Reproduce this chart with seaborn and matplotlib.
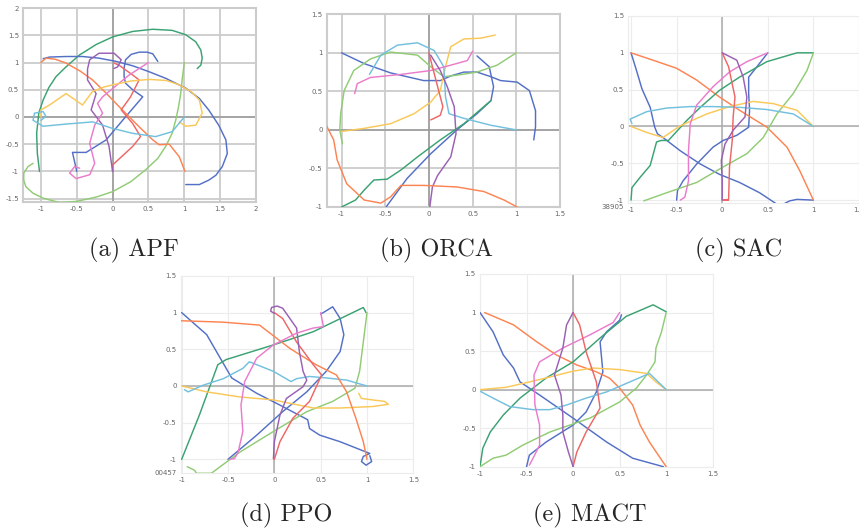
import numpy as np
import pandas as pd
import matplotlib
matplotlib.use("Agg")
import matplotlib.pyplot as plt
import seaborn as sns

# echarts-like palette, one colour per agent (10th agent repeats blue)
COLORS = {
    "blue": "#5470c6", "green": "#91cc75", "yellow": "#fac858", "red": "#ee6666",
    "cyan": "#73c0de", "dgreen": "#3ba272", "orange": "#fc8452", "purple": "#9a60b4",
    "pink": "#ea7ccc", "blue2": "#5470c6",
}

# trajectories, (x, y) waypoints per agent
APF = {
    "dgreen": [(-1.02, -1.0), (-1.05, -0.67), (-1.06, -0.3), (-1.03, 0.07), (-0.97, 0.31), (-0.89, 0.54),
               (-0.79, 0.74), (-0.65, 0.92), (-0.46, 1.14), (-0.23, 1.33), (0, 1.47), (0.28, 1.57),
               (0.56, 1.61), (0.83, 1.59), (1.02, 1.51), (1.16, 1.38), (1.23, 1.23), (1.25, 1.08),
               (1.23, 0.95), (1.18, 0.89)],
    "green": [(1.0, 1.0), (0.97, 0.68), (0.95, 0.43), (0.92, 0.19), (0.88, -0.06), (0.83, -0.3),
              (0.74, -0.54), (0.63, -0.76), (0.46, -0.97), (0.25, -1.19), (0, -1.37), (-0.23, -1.47),
              (-0.51, -1.55), (-0.74, -1.57), (-0.97, -1.49), (-1.11, -1.4), (-1.21, -1.28),
              (-1.24, -1.16), (-1.24, -1.03), (-1.18, -0.91), (-1.11, -0.85)],
    "blue": [(-0.97, 1.07), (-0.88, 1.1), (-0.65, 1.11), (-0.42, 1.11), (-0.19, 1.08), (0.05, 1.02),
             (0.28, 0.94), (0.51, 0.83), (0.74, 0.71), (1.02, 0.53), (1.21, 0.34), (1.34, 0.13),
             (1.48, -0.15), (1.58, -0.42), (1.6, -0.67), (1.53, -0.91), (1.44, -1.07), (1.34, -1.16),
             (1.21, -1.24), (1.02, -1.24)],
    "blue2": [(-0.5, -1), (-0.56, -0.65), (-0.37, -0.65), (-0.09, -0.42), (0.14, -0.06), (0.42, 0.37),
              (0.28, 0.5), (0.18, 0.62), (0.16, 0.74), (0.16, 0.9), (0.18, 1.05), (0.26, 1.15),
              (0.37, 1.19), (0.48, 1.19), (0.56, 1.16), (0.63, 1.02)],
    "orange": [(-1, 1), (-0.93, 1.08), (-0.8, 1.06), (-0.65, 0.99), (-0.45, 0.84), (-0.28, 0.68),
               (-0.1, 0.45), (0.09, 0.19), (0.37, -0.18), (0.56, -0.42), (0.65, -0.51), (0.79, -0.5),
               (0.93, -0.73), (1.01, -1.0)],
    "red": [(0, -1), (0, -0.88), (0.28, -0.54), (0.39, -0.36), (0.28, -0.12), (0.12, 0.13),
            (0.25, 0.37), (0.37, 0.68), (0.28, 0.77), (0.09, 0.95), (0.02, 0.99)],
    "purple": [(0, -1), (-0.05, -0.54), (-0.14, -0.15), (-0.3, 0.13), (-0.23, 0.43), (-0.35, 0.68),
               (-0.35, 0.88), (-0.32, 1.05), (-0.19, 1.17), (0.02, 1.17), (0.12, 1.05), (0.07, 0.92),
               (0.02, 0.89)],
    "pink": [(0.5, 1), (0.23, 0.77), (-0.14, 0.37), (-0.21, 0.25), (-0.14, 0.07), (-0.25, -0.15),
             (-0.32, -0.48), (-0.25, -0.85), (-0.32, -1.06), (-0.51, -1.13), (-0.6, -1.03),
             (-0.53, -0.91), (-0.46, -0.94)],
    "yellow": [(-1, 0), (-1, 0.13), (-0.88, 0.22), (-0.65, 0.43), (-0.42, 0.22), (-0.28, 0.47),
               (-0.12, 0.55), (0, 0.59), (0.25, 0.66), (0.51, 0.69), (0.75, 0.67), (0.93, 0.59),
               (1.1, 0.46), (1.21, 0.31), (1.25, 0.07), (1.16, -0.15), (1.02, -0.17), (0.93, -0.09)],
    "cyan": [(1, 0), (0.83, -0.27), (0.6, -0.36), (0.28, -0.3), (0, -0.21), (-0.28, -0.09),
             (-0.65, -0.13), (-0.97, -0.17), (-1.11, -0.06), (-1.09, 0.07), (-0.97, 0.1),
             (-0.93, 0.01), (-1.0, -0.06)],
}

ORCA = {
    "blue": [(-1, 1), (-0.74, 0.86), (-0.44, 0.74), (-0.25, 0.69), (-0.06, 0.64), (0.13, 0.64),
             (0.25, 0.7), (0.4, 0.75), (0.55, 0.75), (0.71, 0.69), (0.82, 0.64), (1.01, 0.62),
             (1.15, 0.51), (1.22, 0.25), (1.22, 0.04), (1.2, -0.13)],
    "blue2": [(0.55, 0.96), (0.69, 0.82), (0.74, 0.56), (0.71, 0.38), (0.55, 0.21), (0.32, 0.0),
              (0.02, -0.31), (-0.25, -0.63), (-0.49, -1.0)],
    "dgreen": [(-1, -1), (-0.84, -0.91), (-0.74, -0.78), (-0.63, -0.65), (-0.48, -0.64), (-0.32, -0.52),
               (-0.13, -0.35), (0.13, -0.13), (0.4, 0.08), (0.71, 0.38)],
    "green": [(1, 1), (0.78, 0.84), (0.55, 0.75), (0.32, 0.71), (0.17, 0.69), (0.02, 0.82),
              (-0.13, 0.97), (-0.44, 1.01), (-0.67, 0.92), (-0.86, 0.77), (-0.97, 0.51),
              (-1.01, 0.21), (-1.02, 0.0), (-0.99, -0.18)],
    "yellow": [(-1, -0.02), (-0.74, 0.02), (-0.44, 0.08), (-0.17, 0.21), (0.02, 0.36), (0.13, 0.51),
               (0.19, 0.82), (0.25, 1.08), (0.4, 1.18), (0.59, 1.19), (0.76, 1.23)],
    "cyan": [(1, 0), (0.71, 0.06), (0.4, 0.15), (0.23, 0.21), (0.19, 0.43), (0.17, 0.82),
             (0.06, 1.03), (-0.13, 1.13), (-0.36, 1.1), (-0.55, 0.97), (-0.68, 0.72)],
    "pink": [(0.5, 1.02), (0.44, 0.9), (0.25, 0.84), (0.02, 0.77), (-0.32, 0.72), (-0.67, 0.68),
             (-0.82, 0.6), (-0.85, 0.47)],
    "red": [(0, 1), (0.04, 0.82), (0.1, 0.56), (0.16, 0.3), (0.13, 0.19), (0.06, 0.15), (0.02, 0.13)],
    "purple": [(0.02, 0.97), (0.13, 0.77), (0.21, 0.56), (0.29, 0.3), (0.31, -0.05), (0.25, -0.35),
               (0.1, -0.59), (0.04, -0.74), (0.01, -1.0)],
    "orange": [(-1.17, 0.05), (-1.09, -0.13), (-1.05, -0.39), (-0.94, -0.7), (-0.74, -0.91),
               (-0.55, -0.95), (-0.44, -0.87), (-0.32, -0.72), (-0.06, -0.72), (0.32, -0.74),
               (0.63, -0.8), (0.86, -0.91), (1.01, -1.0)],
}

SAC = {
    "blue": [(-1, 1), (-0.94, 0.76), (-0.88, 0.51), (-0.79, 0.26), (-0.74, -0.01), (-0.71, -0.1),
             (-0.65, -0.15), (-0.46, -0.33), (-0.24, -0.51), (-0.03, -0.65), (0.19, -0.76),
             (0.41, -0.9), (0.63, -1.08), (0.74, -1.01), (0.82, -0.99), (1.0, -1.0)],
    "blue2": [(-0.5, -1), (-0.49, -0.87), (-0.43, -0.74), (-0.28, -0.51), (-0.1, -0.28), (0.01, -0.19),
              (0.16, -0.12), (0.29, -0.01), (0.3, 0.22), (0.29, 0.45), (0.29, 0.67), (0.38, 0.81),
              (0.5, 1.0)],
    "orange": [(-1, 1), (-0.76, 0.9), (-0.5, 0.79), (-0.28, 0.63), (-0.03, 0.4), (0.19, 0.22),
               (0.49, -0.01), (0.71, -0.28), (0.85, -0.6), (1.0, -1.0)],
    "dgreen": [(-1, -1), (-0.99, -0.83), (-0.9, -0.69), (-0.79, -0.53), (-0.72, -0.21), (-0.67, -0.19),
               (-0.59, -0.19), (-0.39, 0.08), (-0.24, 0.26), (-0.03, 0.49), (0.19, 0.67),
               (0.49, 0.88), (0.82, 1.0), (1.0, 1.0)],
    "green": [(1, 1), (0.93, 0.76), (0.78, 0.45), (0.6, 0.17), (0.45, -0.15), (0.27, -0.37),
              (0.01, -0.55), (-0.28, -0.76), (-0.61, -0.9), (-0.86, -1.01)],
    "yellow": [(-1, 0), (-0.83, -0.08), (-0.65, -0.15), (-0.46, 0.01), (-0.17, 0.17), (0.08, 0.27),
               (0.34, 0.34), (0.56, 0.31), (0.82, 0.22), (1.0, 0.0)],
    "cyan": [(1, 0), (0.78, 0.17), (0.49, 0.23), (0.19, 0.26), (-0.1, 0.27), (-0.35, 0.27),
             (-0.61, 0.25), (-0.83, 0.2), (-1.01, 0.1), (-0.99, 0.04)],
    "pink": [(0.5, 1), (0.27, 0.88), (0.08, 0.74), (-0.1, 0.54), (-0.28, 0.29), (-0.35, 0.04),
             (-0.37, -0.33), (-0.37, -0.74), (-0.41, -0.96), (-0.46, -1.0)],
    "red": [(0, 1), (0.07, 0.81), (0.14, 0.4), (0.12, 0.13), (0.11, -0.19), (0.08, -0.55),
            (0.07, -0.99), (0.01, -1.0), (0.07, -1.0)],
    "purple": [(0, 1), (0.16, 0.9), (0.23, 0.67), (0.27, 0.4), (0.25, 0.13), (0.12, -0.05),
               (0.03, -0.24), (-0.01, -0.46), (0.0, -0.74), (0.0, -1.0)],
}

PPO = {
    "blue": [(-1, 1), (-0.73, 0.7), (-0.46, 0.11), (-0.19, -0.1), (0.06, -0.26), (0.36, -0.46),
             (0.38, -0.58), (0.49, -0.67), (0.71, -0.76), (0.99, -0.9), (1.03, -0.92), (0.96, -0.96),
             (0.94, -1.03), (0.99, -1.08), (1.05, -1.03), (1.03, -0.95)],
    "blue2": [(-0.5, -1), (-0.19, -0.67), (0.09, -0.35), (0.35, -0.08), (0.56, 0.2), (0.71, 0.47),
              (0.75, 0.7), (0.71, 0.92), (0.63, 1.08), (0.54, 1.01), (0.5, 0.98)],
    "dgreen": [(-1, -1), (-0.81, -0.4), (-0.61, 0.29), (-0.52, 0.36), (-0.01, 0.56), (0.42, 0.74),
               (0.96, 1.07), (0.99, 1.0)],
    "green": [(1, 1), (0.96, 0.6), (0.92, 0.2), (0.87, -0.03), (0.63, -0.21), (0.35, -0.35),
              (-0.01, -0.62), (-0.37, -0.9), (-0.68, -1.19), (-0.84, -1.19), (-0.86, -1.15),
              (-0.94, -1.1)],
    "yellow": [(-1, 0), (-0.73, -0.08), (-0.37, -0.15), (-0.01, -0.19), (0.42, -0.3), (0.71, -0.3),
               (1.06, -0.28), (1.23, -0.25), (1.19, -0.21), (1.06, -0.19), (0.94, -0.17),
               (0.91, -0.1)],
    "cyan": [(1, 0), (0.78, 0.08), (0.56, 0.11), (0.38, 0.13), (0.24, 0.1), (0.18, 0.06),
             (-0.01, 0.2), (-0.27, 0.33), (-0.34, 0.24), (-0.55, 0.1), (-0.77, 0.01),
             (-0.93, -0.08), (-0.97, -0.05)],
    "orange": [(-1.02, 0.97), (-1.02, 0.89), (-0.55, 0.87), (-0.16, 0.83), (0.17, 0.51), (0.45, 0.29),
               (0.67, 0.15), (0.78, -0.08), (0.88, -0.44), (0.96, -0.76), (1.0, -1.0)],
    "red": [(0, 1), (0.09, 0.92), (0.24, 0.6), (0.42, 0.29), (0.51, 0.15), (0.38, -0.21),
            (0.2, -0.44), (0.06, -0.76), (0.0, -1.0)],
    "purple": [(0.0, 0.99), (-0.04, 1.02), (-0.03, 1.07), (0.03, 1.09), (0.09, 1.06), (0.24, 0.79),
               (0.27, 0.47), (0.31, 0.2), (0.35, 0.08), (0.31, -0.01), (0.13, -0.17), (0.06, -0.4),
               (0.0, -0.76), (-0.01, -0.99)],
    "pink": [(0.5, 1.0), (0.53, 0.81), (0.42, 0.79), (0.24, 0.72), (-0.01, 0.56), (-0.19, 0.38),
             (-0.32, 0.06), (-0.36, -0.26), (-0.34, -0.62), (-0.39, -0.9), (-0.43, -0.99),
             (-0.48, -1.0)],
}

MACT = {
    "blue": [(-1, 1), (-0.86, 0.75), (-0.75, 0.45), (-0.64, 0.28), (-0.57, 0.1), (-0.36, -0.07),
             (0.0, -0.37), (0.36, -0.68), (0.64, -0.89), (0.97, -1.0)],
    "blue2": [(-0.5, -1), (-0.47, -0.85), (-0.29, -0.68), (0.0, -0.46), (0.14, -0.29), (0.25, -0.03),
              (0.32, 0.23), (0.29, 0.62), (0.36, 0.75), (0.5, 0.9), (0.52, 0.97)],
    "orange": [(-0.95, 1), (-0.64, 0.84), (-0.39, 0.62), (-0.18, 0.45), (0.04, 0.32), (0.25, 0.23),
               (0.39, 0.15), (0.5, 0.02), (0.64, -0.2), (0.72, -0.46), (0.82, -0.68), (1.0, -1.0)],
    "dgreen": [(-1, -1), (-0.97, -0.76), (-0.89, -0.55), (-0.75, -0.33), (-0.57, -0.11), (-0.29, 0.15),
               (0.0, 0.36), (0.29, 0.67), (0.57, 0.95), (0.86, 1.1), (1.0, 1.01)],
    "green": [(1, 1), (0.95, 0.75), (0.89, 0.54), (0.88, 0.36), (0.79, 0.19), (0.68, 0.02),
              (0.5, -0.16), (0.18, -0.37), (-0.25, -0.55), (-0.54, -0.72), (-0.72, -0.85),
              (-0.86, -0.89), (-1.0, -1.0)],
    "yellow": [(-1, 0), (-0.72, 0.03), (-0.36, 0.13), (0.0, 0.24), (0.21, 0.28), (0.5, 0.26),
               (0.79, 0.21), (0.89, 0.1), (1.0, 0.0)],
    "cyan": [(1, 0), (0.82, 0.21), (0.61, 0.1), (0.36, -0.03), (0.14, -0.11), (-0.07, -0.2),
             (-0.25, -0.26), (-0.43, -0.26), (-0.68, -0.22), (-0.86, -0.11), (-1.0, -0.02)],
    "pink": [(0.5, 1.0), (0.43, 0.87), (0.18, 0.71), (-0.11, 0.54), (-0.36, 0.36), (-0.42, 0.19),
             (-0.41, -0.2), (-0.36, -0.46), (-0.36, -0.72), (-0.43, -0.89), (-0.47, -0.98)],
    "red": [(0, 1.0), (0.07, 0.84), (0.14, 0.49), (0.25, 0.1), (0.29, -0.24), (0.14, -0.55),
            (0.04, -0.81), (0.0, -1.0)],
    "purple": [(0, 1), (-0.07, 0.84), (-0.11, 0.54), (-0.2, 0.19), (-0.13, -0.07), (-0.11, -0.33),
               (-0.11, -0.55), (-0.05, -0.81), (0.0, -1.0)],
}

CAPTIONS = ["(a) APF", "(b) ORCA", "(c) SAC", "(d) PPO", "(e) MACT"]
CUT_LABELS = {"SAC": "38905", "PPO": "00457"}


def to_frame(paths):
    rows = []
    for agent, pts in paths.items():
        for i, (x, y) in enumerate(pts):
            rows.append({"agent": agent, "step": i, "x": x, "y": y})
    return pd.DataFrame(rows)


def draw_panel(ax, paths, xlim, ylim, heavy):
    grid_c = "#cccccc" if heavy else "#ececec"
    zero_c = "#9a9a9a" if heavy else "#aaaaaa"
    ax.set_facecolor("white")
    ax.grid(True, color=grid_c, lw=1.3 if heavy else 0.8, zorder=0)
    ax.axhline(0, color=zero_c, lw=1.1, zorder=1)
    ax.axvline(0, color=zero_c, lw=1.1, zorder=1)
    sns.lineplot(data=to_frame(paths), x="x", y="y", hue="agent", palette=COLORS,
                 sort=False, estimator=None, legend=False, lw=1.05, ax=ax, zorder=3)
    ax.set_xlim(*xlim)
    ax.set_ylim(*ylim)
    xt = np.arange(-1, xlim[1] + 0.01, 0.5)
    yt = np.arange(np.ceil(ylim[0] * 2) / 2, ylim[1] + 0.01, 0.5)
    ax.set_xticks(xt, [f"{v:g}" for v in xt])
    ax.set_yticks(yt, [f"{v:g}" for v in yt])
    ax.tick_params(length=0, pad=3, labelsize=5, labelcolor="#666666")
    ax.set_xlabel("")
    ax.set_ylabel("")
    for s in ax.spines.values():
        s.set_color(grid_c)
        s.set_linewidth(1.5 if heavy else 0.8)


sns.set_style("white")
fig = plt.figure(figsize=(8.59, 5.31), dpi=100)

panels = [
    ("APF", APF, [0.0268, 0.6196, 0.2712, 0.3653], (-1.25, 2), (-1.56, 2), True),
    ("ORCA", ORCA, [0.3803, 0.6102, 0.2716, 0.3629], (-1.17, 1.5), (-1, 1.5), True),
    ("SAC", SAC, [0.7311, 0.6177, 0.2689, 0.3522], (-1.033, 1.5), (-1.039, 1.5), False),
    ("PPO", PPO, [0.2104, 0.1087, 0.2708, 0.3716], (-1.01, 1.5), (-1.19, 1.5), False),
    ("MACT", MACT, [0.5588, 0.1211, 0.2709, 0.3629], (-1, 1.5), (-1, 1.5), False),
]

for name, paths, rect, xlim, ylim, heavy in panels:
    ax = fig.add_axes(rect)
    draw_panel(ax, paths, xlim, ylim, heavy)
    if name in CUT_LABELS:
        dy = -3 if name == "SAC" else 0
        ax.annotate(CUT_LABELS[name], xy=(0, 0), xycoords="axes fraction",
                    xytext=(-3, dy), textcoords="offset points", ha="right", va="center",
                    fontsize=5, color="#666666")

cap_pos = [(134, 250), (437, 250), (739, 250), (286, 515), (590, 515)]
for text, (px, py) in zip(CAPTIONS, cap_pos):
    fig.text(px / 859, 1 - py / 531, text, ha="center", va="center", fontsize=17.5,
             family=["cmr10", "DejaVu Serif"])

fig.savefig("out.png", dpi=100)
